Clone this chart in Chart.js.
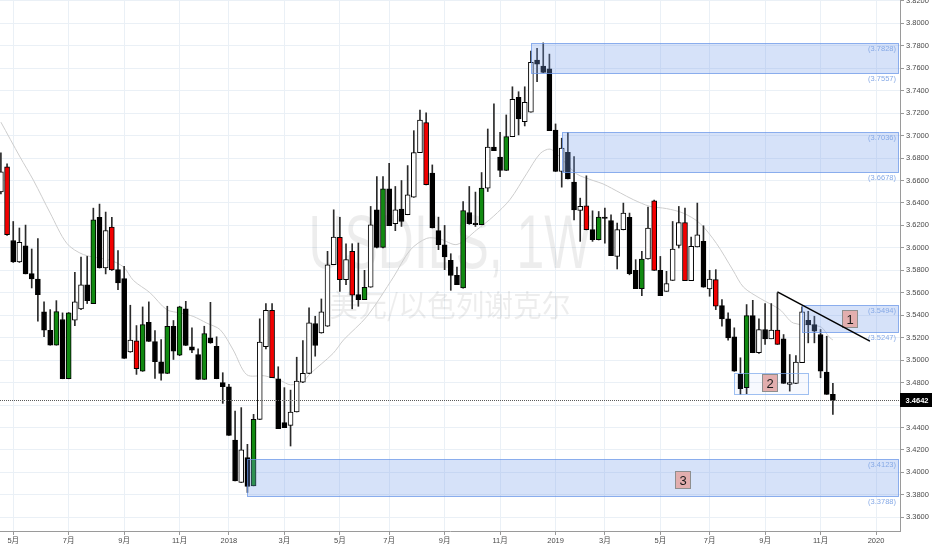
<!DOCTYPE html>
<html>
<head>
<meta charset="utf-8">
<script src="https://cdn.jsdelivr.net/npm/chart.js@4.4.0/dist/chart.umd.min.js"></script>
<style>
  html, body { margin: 0; padding: 0; background: #fff; }
  #wrap { width: 932px; height: 550px; }
</style>
</head>
<body>
<div id="wrap"><canvas id="chart"></canvas></div>
<script>
// weekly USD/ILS bars, week 0 = 2017-04-17
const opens = [3.6499,3.6722,3.6066,3.5874,3.6019,3.5770,3.5723,3.5430,3.5266,3.5133,
  3.5362,3.4834,3.5355,3.5457,3.5670,3.5504,3.6271,3.5821,3.6186,3.5806,
  3.5726,3.5074,3.5172,3.4902,3.5337,3.5166,3.4986,3.4882,3.5302,3.5044,
  3.5457,3.5119,3.5050,3.4828,3.5199,3.5124,3.4799,3.4763,3.4289,3.3910,
  3.4132,3.3880,3.4473,3.5119,3.5444,3.4834,3.4444,3.4419,3.4538,3.4804,
  3.4882,3.5326,3.5243,3.5302,3.5850,3.6093,3.5717,3.5969,3.5584,3.5539,
  3.5649,3.6339,3.6004,3.6526,3.6215,3.6346,3.6295,3.6452,3.6849,3.7115,
  3.6666,3.6153,3.6028,3.5889,3.5755,3.5643,3.6315,3.6221,3.6206,3.6532,
  3.6897,3.6808,3.6689,3.6991,3.7341,3.7124,3.7208,3.7673,3.7619,3.7595,
  3.7050,3.6680,3.6852,3.6586,3.6333,3.6375,3.6162,3.6073,3.6274,3.6244,
  3.5924,3.6162,3.6271,3.5800,3.5637,3.5901,3.6419,3.5800,3.5613,3.5711,
  3.6022,3.6226,3.5708,3.6008,3.6058,3.5634,3.5717,3.5486,3.5368,3.5208,
  3.4873,3.4755,3.5397,3.5066,3.5273,3.5190,3.5267,3.5190,3.4784,3.4793,
  3.4977,3.5355,3.5317,3.5228,3.4893,3.4695];
const highs = [3.6846,3.6748,3.6235,3.6177,3.6203,3.5990,3.6082,3.5519,3.5450,3.5530,
  3.5421,3.5424,3.5782,3.5919,3.5924,3.6354,3.6390,3.6319,3.6271,3.5975,
  3.5835,3.5489,3.5308,3.5474,3.5519,3.5264,3.5184,3.5480,3.5353,3.5480,
  3.5524,3.5288,3.5101,3.5302,3.5515,3.5208,3.4888,3.4784,3.4546,3.4577,
  3.4250,3.4517,3.5368,3.5504,3.5504,3.4941,3.4755,3.4733,3.5026,3.5175,
  3.5466,3.5391,3.5545,3.5969,3.6339,3.6271,3.6037,3.6037,3.6043,3.5800,
  3.6369,3.6635,3.6635,3.6754,3.6547,3.6600,3.6733,3.7044,3.7228,3.7204,
  3.6739,3.6274,3.6200,3.5948,3.5830,3.6413,3.6547,3.6497,3.6671,3.7059,
  3.7282,3.7030,3.7184,3.7435,3.7391,3.7435,3.7753,3.7777,3.7826,3.7726,
  3.7104,3.6977,3.7030,3.6813,3.6443,3.6642,3.6330,3.6324,3.6354,3.6295,
  3.6221,3.6399,3.6310,3.5895,3.5969,3.6363,3.6425,3.5924,3.5791,3.6235,
  3.6369,3.6354,3.6097,3.6399,3.6197,3.5800,3.5806,3.5539,3.5421,3.5288,
  3.5021,3.5495,3.5533,3.5368,3.5504,3.5504,3.5599,3.5228,3.5050,3.5041,
  3.5474,3.5435,3.5391,3.5273,3.5213,3.4793];
const lows = [3.6480,3.6110,3.5870,3.5870,3.5768,3.5643,3.5347,3.5208,3.5133,3.5133,
  3.4834,3.4834,3.5308,3.5450,3.5504,3.5504,3.5820,3.5768,3.5800,3.5628,
  3.5015,3.5070,3.4873,3.4900,3.5166,3.4837,3.4822,3.4880,3.5006,3.5040,
  3.5130,3.5066,3.4828,3.4828,3.5150,3.4834,3.4615,3.4330,3.3924,3.3910,
  3.3821,3.3880,3.4470,3.5101,3.4843,3.4390,3.4399,3.4235,3.4538,3.4800,
  3.4880,3.5035,3.5240,3.5300,3.5850,3.5613,3.5673,3.5457,3.5480,3.5539,
  3.5649,3.6000,3.6000,3.6197,3.6153,3.6191,3.6295,3.6450,3.6849,3.6560,
  3.6177,3.5984,3.5806,3.5622,3.5673,3.5640,3.6210,3.6191,3.6206,3.6502,
  3.6866,3.6635,3.6689,3.6990,3.7006,3.7086,3.7208,3.7480,3.7560,3.7044,
  3.6680,3.6541,3.6615,3.6250,3.6058,3.6160,3.6058,3.6070,3.6043,3.5930,
  3.5812,3.6160,3.5760,3.5637,3.5575,3.5900,3.5800,3.5575,3.5613,3.5710,
  3.5999,3.5708,3.5708,3.6008,3.5649,3.5569,3.5450,3.5302,3.5178,3.4900,
  3.4695,3.4701,3.5066,3.5060,3.5140,3.5190,3.5140,3.4793,3.4724,3.4790,
  3.4977,3.5154,3.5154,3.4843,3.4695,3.4517];
const closes = [3.6677,3.6117,3.5874,3.6049,3.5768,3.5723,3.5584,3.5266,3.5133,3.5432,
  3.4834,3.5421,3.5519,3.5670,3.5530,3.6250,3.5821,3.6155,3.5803,3.5688,
  3.5015,3.5178,3.4923,3.5317,3.5166,3.4986,3.4882,3.5302,3.5080,3.5474,
  3.5130,3.5089,3.4828,3.5237,3.5154,3.4834,3.4763,3.4330,3.3924,3.4200,
  3.3874,3.4473,3.5160,3.5444,3.4843,3.4390,3.4399,3.4538,3.4813,3.4882,
  3.5332,3.5130,3.5430,3.5850,3.6097,3.5717,3.5895,3.5578,3.5539,3.5649,
  3.6206,3.6004,3.6526,3.6197,3.6339,3.6235,3.6473,3.6849,3.7139,3.6562,
  3.6177,3.6028,3.5919,3.5755,3.5673,3.6333,3.6215,3.6206,3.6532,3.6897,
  3.6866,3.6689,3.6991,3.7323,3.7148,3.7297,3.7652,3.7637,3.7563,3.7044,
  3.6680,3.6888,3.6615,3.6339,3.6369,3.6162,3.6073,3.6274,3.6262,3.5930,
  3.6162,3.6310,3.5770,3.5637,3.5901,3.6177,3.5800,3.5575,3.5682,3.5990,
  3.6226,3.5708,3.6013,3.6117,3.5649,3.5723,3.5480,3.5368,3.5199,3.4902,
  3.4746,3.5397,3.5066,3.5273,3.5190,3.5267,3.5140,3.4793,3.4799,3.4982,
  3.5430,3.5317,3.5258,3.4902,3.4695,3.4642];

// bars painted red / green on the original
const redBars = [1, 18, 22, 44, 55, 57, 69, 95, 106, 111, 116, 126];
const greenBars = [9, 11, 15, 23, 27, 29, 33, 41, 59, 62, 75, 78, 82, 97, 104, 121];

// moving average
const maWeek = [0, 3.1, 5.3, 8, 10.7, 13.4, 17.7, 19.9, 21.5, 24.2, 26.9, 29.1, 31.2, 33.4, 35.6, 37.7,
  39.9, 42.8, 45.3, 47, 49, 50.2, 53.9, 55.6, 59.4, 63.7, 66.4, 69.1, 71.2, 74, 77.2, 79.9,
  82.6, 85.3, 87.5, 89.1, 90.7, 93.4, 96.1, 97.7, 100.5, 102.6, 105.3, 108, 110.7, 113.4,
  116.1, 118.8, 120.5, 123.2, 126.4, 128.6, 132.9, 134.5, 135];
const maValue = [3.712, 3.681, 3.660, 3.631, 3.604, 3.594, 3.589, 3.583, 3.571, 3.560, 3.545, 3.542, 3.539, 3.533, 3.527, 3.509,
  3.487, 3.486, 3.482, 3.478, 3.481, 3.488, 3.506, 3.518, 3.539, 3.574, 3.598, 3.6085, 3.608, 3.603, 3.616, 3.628,
  3.643, 3.666, 3.684, 3.688, 3.681, 3.666, 3.660, 3.657, 3.649, 3.643, 3.637, 3.635, 3.631, 3.622,
  3.604, 3.580, 3.565, 3.555, 3.545, 3.533, 3.530, 3.520, 3.518];

const monthTickWeek = [2, 11, 20, 29, 37, 46, 55, 63, 72, 81, 90, 98, 107, 115, 124, 133, 142];
const monthTickLabels = ["5月", "7月", "9月", "11月", "2018", "3月", "5月", "7月", "9月", "11月",
  "2019", "3月", "5月", "7月", "9月", "11月", "2020"];
const priceTicks = [3.36, 3.38, 3.40, 3.42, 3.44, 3.46, 3.48, 3.50, 3.52, 3.54, 3.56, 3.58,
  3.60, 3.62, 3.64, 3.66, 3.68, 3.70, 3.72, 3.74, 3.76, 3.78, 3.80, 3.82];

// supply / demand zones
const zoneFrom = [86, 91, 130, 40];
const zoneTop = [3.7828, 3.7036, 3.5494, 3.4123];
const zoneBottom = [3.7557, 3.6678, 3.5247, 3.3788];
// small consolidation box
const rangeWeeks = [119, 131];
const rangePrices = [3.4882, 3.4695];
// numbered tags
const tagText = ["1", "2", "3"];
const tagWeek = [137.8, 124.8, 110.7];
const tagPrice = [3.5362, 3.4792, 3.3928];
// trend line
const trendWeek = [126, 141];
const trendPrice = [3.5608, 3.5169];

const lastPrice = 3.4642;
const symbolText = "USDILS, 1W";
const symbolName = "美元/以色列谢克尔";

const FONT = "'Liberation Sans', 'Noto Sans CJK SC', sans-serif";
Chart.defaults.font.family = FONT;
Chart.defaults.font.size = 7.5;
Chart.defaults.color = "#4a4a4a";

const weeks = closes.map((_, i) => i);
const barColor = i => redBars.includes(i) ? "#f20000"
  : greenBars.includes(i) ? "#118a11"
  : (closes[i] >= opens[i] ? "#ffffff" : "#000000");

const watermark = {
  id: "watermark",
  beforeDatasetsDraw(chart) {
    const { ctx, chartArea: ca } = chart;
    const cx = (ca.left + ca.right) / 2;
    ctx.save();
    ctx.fillStyle = "rgba(0,0,0,0.07)";
    ctx.textAlign = "center";
    ctx.font = "76px 'Liberation Sans', sans-serif";
    let w = ctx.measureText(symbolText).width;
    ctx.translate(cx, 268);
    ctx.scale(283 / w, 1);
    ctx.textBaseline = "alphabetic";
    ctx.fillText(symbolText, 0, 0);
    ctx.restore();
    ctx.save();
    ctx.fillStyle = "rgba(0,0,0,0.07)";
    ctx.textAlign = "center";
    ctx.textBaseline = "middle";
    ctx.font = "30px 'Noto Sans CJK SC', sans-serif";
    w = ctx.measureText(symbolName).width;
    ctx.translate(cx, 305);
    ctx.scale(241 / w, 1);
    ctx.fillText(symbolName, 0, 0);
    ctx.restore();
  }
};

const zones = {
  id: "zones",
  afterDatasetDraw(chart, args) {
    if (args.index !== 2) return;
    const { ctx, chartArea: ca } = chart;
    const xs = chart.scales.x, ys = chart.scales.y;
    ctx.save();
    ctx.beginPath();
    ctx.rect(ca.left, ca.top, ca.width, ca.height);
    ctx.clip();
    ctx.lineWidth = 1;
    ctx.font = "7.5px " + FONT;
    ctx.textAlign = "right";
    ctx.textBaseline = "middle";
    zoneTop.forEach((top, k) => {
      const x0 = Math.round(xs.getPixelForValue(zoneFrom[k])) + 0.5;
      const x1 = ca.right - 1.5;
      const y0 = Math.round(ys.getPixelForValue(top)) + 0.5;
      const y1 = Math.round(ys.getPixelForValue(zoneBottom[k])) + 0.5;
      ctx.fillStyle = "rgba(120,160,235,0.3)";
      ctx.fillRect(x0, y0, x1 - x0, y1 - y0);
      ctx.strokeStyle = "rgba(105,150,232,0.75)";
      ctx.strokeRect(x0, y0, x1 - x0, y1 - y0);
      ctx.fillStyle = "#86a9e6";
      ctx.fillText("(" + top.toFixed(4) + ")", ca.right - 4, y0 + 5.5);
      ctx.fillText("(" + zoneBottom[k].toFixed(4) + ")", ca.right - 4, y1 + 5.5);
    });
    // consolidation box
    const bx0 = Math.round(xs.getPixelForValue(rangeWeeks[0])) + 0.5;
    const bx1 = Math.round(xs.getPixelForValue(rangeWeeks[1])) + 0.5;
    const by0 = Math.round(ys.getPixelForValue(rangePrices[0])) + 0.5;
    const by1 = Math.round(ys.getPixelForValue(rangePrices[1])) + 0.5;
    ctx.fillStyle = "rgba(120,160,235,0.06)";
    ctx.fillRect(bx0, by0, bx1 - bx0, by1 - by0);
    ctx.strokeStyle = "rgba(120,165,235,0.7)";
    ctx.strokeRect(bx0, by0, bx1 - bx0, by1 - by0);
    // numbered tags
    ctx.font = "13px " + FONT;
    ctx.textAlign = "center";
    tagText.forEach((t, k) => {
      const cx = Math.round(xs.getPixelForValue(tagWeek[k]));
      const cy = Math.round(ys.getPixelForValue(tagPrice[k]));
      ctx.fillStyle = "#e2aeae";
      ctx.fillRect(cx - 7.5, cy - 8.5, 15, 17);
      ctx.strokeStyle = "#8e8e8e";
      ctx.strokeRect(cx - 7.5, cy - 8.5, 15, 17);
      ctx.fillStyle = "#1a1a1a";
      ctx.fillText(t, cx, cy + 1);
    });
    ctx.restore();
  },
  afterDatasetsDraw(chart) {
    const { ctx, chartArea: ca } = chart;
    const y = Math.round(chart.scales.y.getPixelForValue(lastPrice)) + 0.5;
    ctx.save();
    ctx.strokeStyle = "#5a5a5a";
    ctx.lineWidth = 1.2;
    ctx.setLineDash([1, 1]);
    ctx.beginPath();
    ctx.moveTo(ca.left, y);
    ctx.lineTo(ca.right, y);
    ctx.stroke();
    ctx.restore();
  },
  afterDraw(chart) {
    const { ctx, chartArea: ca } = chart;
    const y = Math.round(chart.scales.y.getPixelForValue(lastPrice));
    ctx.save();
    ctx.fillStyle = "#000";
    ctx.fillRect(ca.right, y - 7, chart.width - ca.right, 14);
    ctx.fillStyle = "#fff";
    ctx.font = "bold 7.5px " + FONT;
    ctx.textAlign = "center";
    ctx.textBaseline = "middle";
    ctx.fillText(lastPrice.toFixed(4), (ca.right + chart.width) / 2 + 1, y + 0.5);
    ctx.restore();
  }
};

new Chart(document.getElementById("chart"), {
  type: "bar",
  data: {
    datasets: [
      {
        type: "line",
        data: maWeek.map((w, k) => ({ x: w, y: maValue[k] })),
        borderColor: "#cdcdcd",
        borderWidth: 1,
        pointRadius: 0,
        tension: 0.3,
        order: 4
      },
      {
        data: weeks.map(i => ({ x: i, y: [lows[i], highs[i]] })),
        backgroundColor: "#2a2a2a",
        barThickness: 1,
        grouped: false,
        order: 3
      },
      {
        data: weeks.map(i => ({ x: i, y: [Math.min(opens[i], closes[i]), Math.max(opens[i], closes[i])] })),
        backgroundColor: weeks.map(barColor),
        borderColor: "#000",
        borderWidth: 1,
        borderSkipped: false,
        barThickness: 5,
        grouped: false,
        order: 2
      },
      {
        type: "line",
        data: trendWeek.map((w, k) => ({ x: w, y: trendPrice[k] })),
        borderColor: "#000",
        borderWidth: 1.5,
        pointRadius: 0,
        order: 1
      }
    ]
  },
  options: {
    responsive: true,
    maintainAspectRatio: false,
    animation: false,
    layout: { padding: 0 },
    plugins: { legend: { display: false }, tooltip: { enabled: false } },
    scales: {
      x: {
        type: "linear",
        min: -0.146,
        max: 145.89,
        offset: false,
        afterBuildTicks: s => { s.ticks = monthTickWeek.map(v => ({ value: v })); },
        afterFit: s => { s.height = 19; s.paddingLeft = 0; s.paddingRight = 0; },
        ticks: {
          autoSkip: false,
          maxRotation: 0,
          padding: 1,
          callback: (v, i) => monthTickLabels[i]
        },
        grid: { offset: false, color: "#eaf0f6", tickColor: "#9a9a9a", tickLength: 4 },
        border: { color: "#9a9a9a" }
      },
      y: {
        position: "right",
        min: 3.3478,
        max: 3.8208,
        afterBuildTicks: s => { s.ticks = priceTicks.map(v => ({ value: v })); },
        afterFit: s => { s.width = 32; s.paddingTop = 0; s.paddingBottom = 0; },
        ticks: { padding: 2, callback: v => Number(v).toFixed(4) },
        grid: { color: "#eaf0f6", tickColor: "#9a9a9a", tickLength: 4 },
        border: { color: "#9a9a9a" }
      }
    }
  },
  plugins: [watermark, zones]
});
</script>
</body>
</html>
